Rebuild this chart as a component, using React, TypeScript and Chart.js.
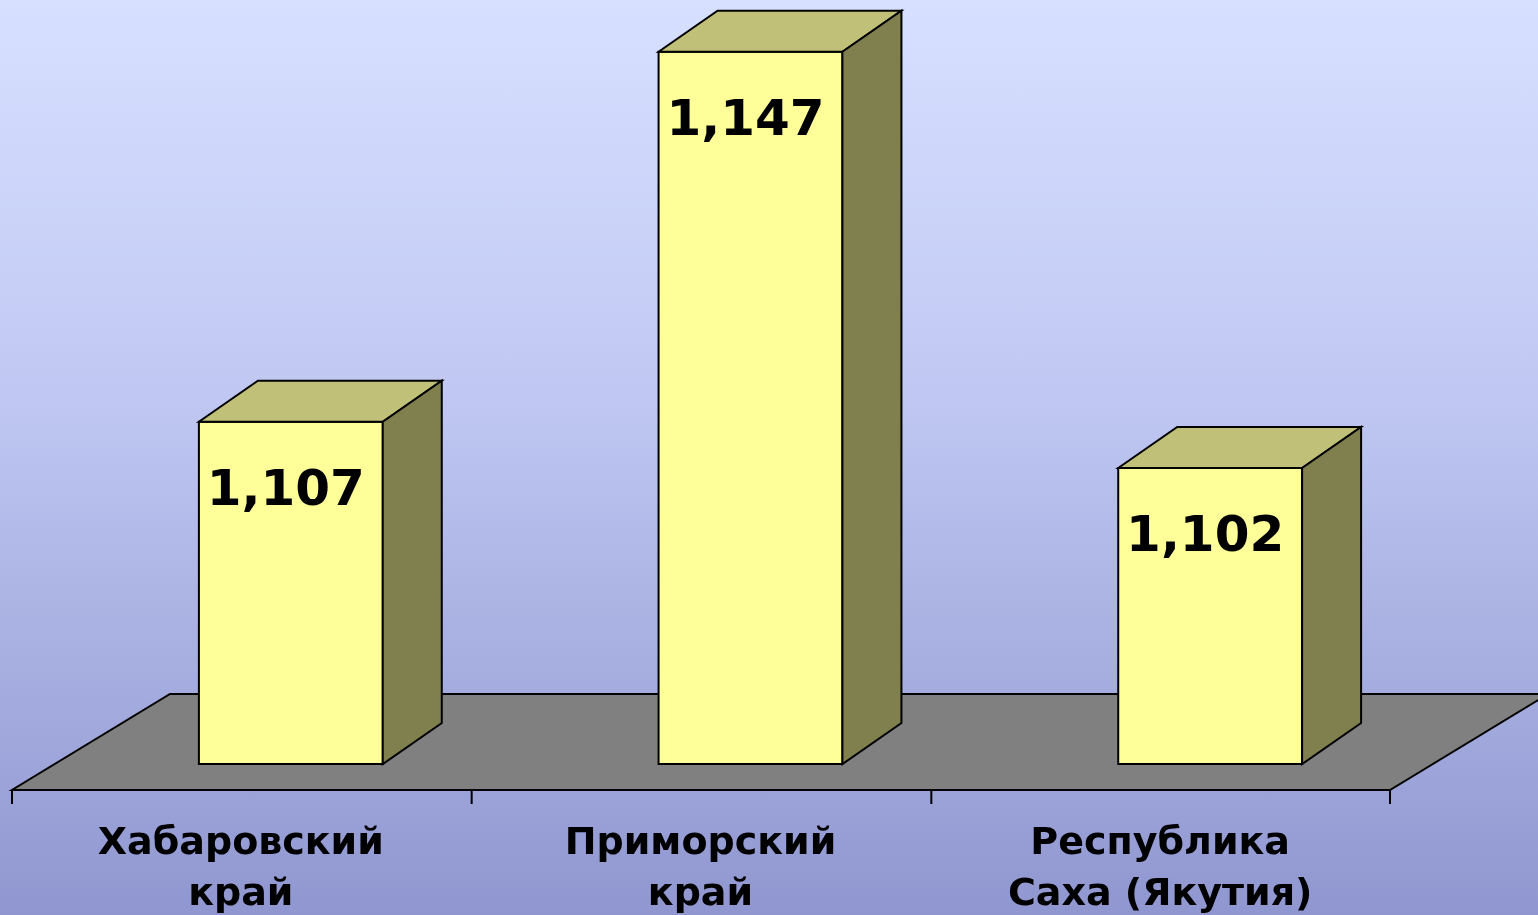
import React, { useEffect, useRef } from "react";
import { Chart, registerables } from "chart.js";

Chart.register(...registerables);

const categories: string[][] = [
  ["Хабаровский", "край"],
  ["Приморский", "край"],
  ["Республика", "Саха (Якутия)"],
];
const values: number[] = [1.107, 1.147, 1.102];
const yMin = 1.07;
const yMax = 1.15;

const DEPTH_X = 59;
const DEPTH_Y = -41;
const FLOOR_SHIFT_X = -49;
const FLOOR_FRONT_DY = 26;
const FLOOR_DX = 158;
const FLOOR_DY = -96;

const threeD = {
  id: "threeD",
  beforeDatasetsDraw(chart: any) {
    const { ctx, chartArea, scales } = chart;
    const xs = scales.x;
    const cw = (chartArea.right - chartArea.left) / categories.length;
    const fy = chartArea.bottom + FLOOR_FRONT_DY;
    const fl = chartArea.left + FLOOR_SHIFT_X;
    const fr = chartArea.right + FLOOR_SHIFT_X - 1;
    ctx.save();
    ctx.beginPath();
    ctx.moveTo(fl, fy);
    ctx.lineTo(fr, fy);
    ctx.lineTo(fr + FLOOR_DX, fy + FLOOR_DY);
    ctx.lineTo(fl + FLOOR_DX, fy + FLOOR_DY);
    ctx.closePath();
    ctx.fillStyle = "#808080";
    ctx.fill();
    ctx.strokeStyle = "#000";
    ctx.lineWidth = 2;
    ctx.stroke();
    // tick marks
    ctx.beginPath();
    for (let i = 0; i <= categories.length; i++) {
      const px = i < categories.length
        ? xs.getPixelForValue(i) - cw / 2 + FLOOR_SHIFT_X
        : xs.getPixelForValue(i - 1) + cw / 2 + FLOOR_SHIFT_X - 1;
      ctx.moveTo(px, fy);
      ctx.lineTo(px, fy + 14);
    }
    ctx.lineWidth = 2;
    ctx.stroke();
    ctx.restore();
  },
  afterDatasetsDraw(chart: any) {
    const { ctx, chartArea } = chart;
    const meta = chart.getDatasetMeta(0);
    ctx.save();
    ctx.lineWidth = 2;
    ctx.strokeStyle = "#000";
    ctx.lineJoin = "miter";
    meta.data.forEach((bar: any, i: number) => {
      const { x, y, width } = bar.getProps(["x", "y", "width"], true);
      const base = chartArea.bottom;
      const l = x - width / 2;
      const r = x + width / 2;
      // front outline
      ctx.strokeRect(l, y, width, base - y);
      // top face
      ctx.beginPath();
      ctx.moveTo(l, y);
      ctx.lineTo(l + DEPTH_X, y + DEPTH_Y);
      ctx.lineTo(r + DEPTH_X, y + DEPTH_Y);
      ctx.lineTo(r, y);
      ctx.closePath();
      ctx.fillStyle = "#C0C078";
      ctx.fill();
      ctx.stroke();
      // side face
      ctx.beginPath();
      ctx.moveTo(r, y);
      ctx.lineTo(r + DEPTH_X, y + DEPTH_Y);
      ctx.lineTo(r + DEPTH_X, base + DEPTH_Y);
      ctx.lineTo(r, base);
      ctx.closePath();
      ctx.fillStyle = "#80804E";
      ctx.fill();
      ctx.stroke();
      // value label
      const txt = values[i].toFixed(3).replace(".", ",");
      ctx.fillStyle = "#000";
      ctx.font = "bold 50px 'DejaVu Sans'";
      ctx.textAlign = "center";
      ctx.textBaseline = "alphabetic";
      ctx.fillText(txt, x - 5, y + 83);
    });
    ctx.restore();
  },
};

export default function App() {
  const canvasRef = useRef<HTMLCanvasElement | null>(null);

  useEffect(() => {
    if (!canvasRef.current) return;
    const chart = new Chart(canvasRef.current, {
      type: "bar",
      data: {
        labels: categories,
        datasets: [
          {
            data: values,
            backgroundColor: "#FFFF99",
            borderWidth: 0,
            barPercentage: 0.4,
            categoryPercentage: 1,
          },
        ],
      },
      options: {
        animation: false,
        responsive: true,
        maintainAspectRatio: false,
        layout: { padding: { left: 61, right: 98, top: 24, bottom: 0 } },
        plugins: {
          legend: { display: false },
          tooltip: { enabled: false },
        },
        scales: {
          y: {
            display: false,
            min: yMin,
            max: yMax,
          },
          x: {
            grid: { display: false, drawTicks: false },
            border: { display: false },
            ticks: {
              color: "#000",
              padding: 54,
              labelOffset: -50,
              maxRotation: 0,
              autoSkip: false,
              font: { family: "'DejaVu Sans'", weight: "bold", size: 38, lineHeight: 1.36 },
            },
            afterFit(scale: any) {
              scale.height = 151;
            },
          },
        },
      },
      plugins: [threeD],
    });
    return () => chart.destroy();
  }, []);

  return (
    <div
      style={{
        position: "fixed",
        left: 0,
        top: 0,
        width: 1538,
        height: 915,
        background: "linear-gradient(to bottom, #D7E0FF 0%, #C2CAF4 40%, #9097D0 100%)",
      }}
    >
      <canvas ref={canvasRef} />
    </div>
  );
}
